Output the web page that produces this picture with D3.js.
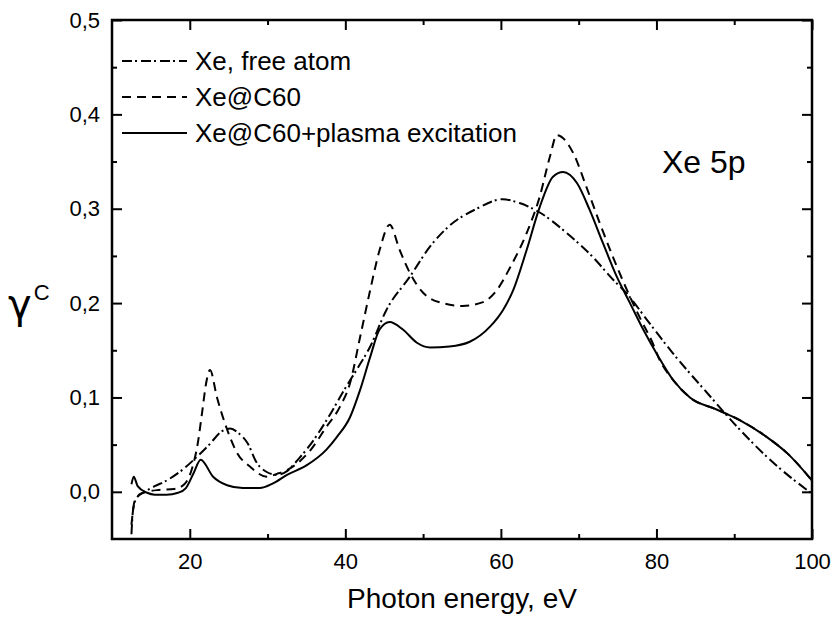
<!DOCTYPE html>
<html>
<head>
<meta charset="utf-8">
<script src="https://cdn.jsdelivr.net/npm/d3@7"></script>
<style>
  body { margin: 0; background: #fff; }
  text { font-family: "Liberation Sans", Arial, sans-serif; fill: #000; }
</style>
</head>
<body>
<div id="chart"></div>
<script>
// series data (photon energy in eV, gamma^C)
var freeAtomE = [12.5, 12.7, 13.2, 14.2, 15.5, 16.8, 19, 20.9, 22.5, 24.1, 25.2, 26.3, 27.4, 28.6, 29.9, 31.2, 32.5, 34, 35.5, 37.6, 40, 41.5, 43.2, 45.3, 48.3, 50.9, 53.4, 56.9, 60.2, 62.4, 65, 68.5, 71.8, 74.4, 76.2, 78.8, 82.1, 86.5, 90.7, 95, 100];
var freeAtomG = [-0.045, -0.02, -0.006, 0.0, 0.006, 0.011, 0.023, 0.037, 0.05, 0.064, 0.067, 0.062, 0.052, 0.031, 0.021, 0.018, 0.022, 0.035, 0.05, 0.076, 0.11, 0.13, 0.154, 0.193, 0.228, 0.26, 0.282, 0.3, 0.31, 0.306, 0.296, 0.274, 0.249, 0.225, 0.21, 0.182, 0.147, 0.105, 0.066, 0.031, -0.002];

var c60E = [12.5, 12.9, 13.5, 14.5, 16, 18, 19.3, 20.3, 21.0, 21.6, 22.1, 22.6, 23.5, 24.8, 26.1, 27.7, 29.9, 31.2, 32.5, 35.5, 37.5, 39.3, 40.6, 41.9, 43.2, 44.4, 45.7, 47, 48.3, 50, 52.5, 55.1, 57.7, 59.5, 61.2, 63.3, 65, 66.3, 67.2, 69.3, 71, 72.7, 74.4, 76.2, 77.9, 79.5, 80.4, 82.1, 84.3, 87.8, 90.7, 94.2, 96.8, 100];
var c60G = [-0.035, -0.01, -0.003, 0.0, 0.002, 0.003, 0.008, 0.025, 0.05, 0.085, 0.115, 0.129, 0.1, 0.066, 0.041, 0.027, 0.016, 0.019, 0.023, 0.044, 0.068, 0.09, 0.115, 0.164, 0.214, 0.256, 0.283, 0.256, 0.232, 0.211, 0.2, 0.197, 0.201, 0.214, 0.238, 0.274, 0.313, 0.355, 0.378, 0.359, 0.323, 0.285, 0.249, 0.214, 0.184, 0.158, 0.14, 0.119, 0.1, 0.087, 0.076, 0.058, 0.041, 0.012];

var plasmaE = [12.5, 12.8, 13.3, 14.5, 15.5, 17, 18.5, 19.5, 20.5, 21.4, 23, 24.8, 26.8, 29, 30.7, 32.5, 35, 37.6, 38.9, 40.6, 41.9, 43.2, 44.4, 45.7, 47.4, 49.2, 50.9, 53.4, 56, 58.6, 60.3, 61.6, 63.3, 65, 66.7, 68, 69.8, 71.4, 73.1, 74.9, 76.6, 78.3, 80.2, 82.1, 84.3, 87.8, 90.7, 94.2, 96.8, 100];
var plasmaG = [0.008, 0.016, 0.006, -0.001, -0.003, -0.003, -0.001, 0.004, 0.02, 0.034, 0.016, 0.007, 0.004, 0.004, 0.009, 0.018, 0.028, 0.045, 0.058, 0.079, 0.108, 0.143, 0.172, 0.18, 0.172, 0.158, 0.153, 0.154, 0.159, 0.175, 0.193, 0.214, 0.256, 0.302, 0.334, 0.339, 0.327, 0.299, 0.264, 0.228, 0.2, 0.172, 0.144, 0.119, 0.1, 0.087, 0.076, 0.058, 0.041, 0.012];

var seriesNames = ["Xe, free atom", "Xe@C60", "Xe@C60+plasma excitation"];
var seriesDash = ["10,3,2,4", "9,6", null];

var xMajorTicks = [20, 40, 60, 80, 100];
var xMinorTicks = [30, 50, 70, 90];
var yMajorTicks = [0.0, 0.1, 0.2, 0.3, 0.4, 0.5];
var yMinorTicks = [0.05, 0.15, 0.25, 0.35, 0.45];

var W = 833, H = 619;
var margin = {left: 112, right: 21, top: 20, bottom: 80};

var svg = d3.select("#chart").append("svg")
    .attr("width", W)
    .attr("height", H);

var x = d3.scaleLinear().domain([10, 100]).range([margin.left, W - margin.right]);
var y = d3.scaleLinear().domain([-0.05, 0.5]).range([H - margin.bottom, margin.top]);

var fmt = function (d) { return d3.format(".1f")(d).replace(".", ","); };

// axes, ticks point inward on every side
function tickAxis(axisFn, scale, ticks, len, transform, labels) {
    var a = axisFn(scale).tickValues(ticks).tickSizeInner(-len).tickSizeOuter(0);
    a.tickFormat(labels ? labels : "");
    var g = svg.append("g").attr("transform", transform).call(a);
    g.select(".domain").remove();
    g.selectAll(".tick line").attr("stroke", "#000").attr("stroke-width", 2);
    return g;
}

var bottomT = "translate(0," + (H - margin.bottom) + ")";
var topT = "translate(0," + margin.top + ")";
var leftT = "translate(" + margin.left + ",0)";
var rightT = "translate(" + (W - margin.right) + ",0)";

var gx = tickAxis(d3.axisBottom, x, xMajorTicks, 10, bottomT, d3.format("d"));
gx.selectAll("text").attr("font-size", 22).attr("y", 14);
tickAxis(d3.axisBottom, x, xMinorTicks, 5, bottomT);
tickAxis(d3.axisTop, x, xMajorTicks, 10, topT);
tickAxis(d3.axisTop, x, xMinorTicks, 5, topT);

var gy = tickAxis(d3.axisLeft, y, yMajorTicks, 10, leftT, fmt);
gy.selectAll("text").attr("font-size", 22).attr("x", -12);
tickAxis(d3.axisLeft, y, yMinorTicks, 5, leftT);
tickAxis(d3.axisRight, y, yMajorTicks, 10, rightT);
tickAxis(d3.axisRight, y, yMinorTicks, 5, rightT);

svg.selectAll(".tick text").attr("fill", "#000").style("font-family", '"Liberation Sans", Arial, sans-serif');

svg.append("rect")
    .attr("x", margin.left)
    .attr("y", margin.top)
    .attr("width", W - margin.left - margin.right)
    .attr("height", H - margin.top - margin.bottom)
    .attr("fill", "none")
    .attr("stroke", "#000")
    .attr("stroke-width", 2.5);

// curves
var line = d3.line()
    .x(function (d) { return x(d[0]); })
    .y(function (d) { return y(d[1]); })
    .curve(d3.curveMonotoneX);

var curves = [d3.zip(freeAtomE, freeAtomG), d3.zip(c60E, c60G), d3.zip(plasmaE, plasmaG)];

svg.append("defs").append("clipPath").attr("id", "clip")
    .append("rect")
    .attr("x", margin.left).attr("y", margin.top)
    .attr("width", W - margin.left - margin.right)
    .attr("height", H - margin.top - margin.bottom);

svg.append("g").attr("clip-path", "url(#clip)")
    .selectAll("path")
    .data(curves)
    .enter().append("path")
    .attr("d", line)
    .attr("fill", "none")
    .attr("stroke", "#000")
    .attr("stroke-width", 2)
    .attr("stroke-dasharray", function (d, i) { return seriesDash[i]; });

// legend
var legend = svg.append("g");
seriesNames.forEach(function (name, i) {
    var ly = 61 + i * 36;
    legend.append("line")
        .attr("x1", 122).attr("x2", 187)
        .attr("y1", ly).attr("y2", ly)
        .attr("stroke", "#000")
        .attr("stroke-width", 2)
        .attr("stroke-dasharray", seriesDash[i]);
    legend.append("text")
        .attr("x", 195).attr("y", ly)
        .attr("dy", "0.35em")
        .attr("font-size", 26)
        .text(name);
});

svg.append("text")
    .attr("x", 662).attr("y", 173)
    .attr("font-size", 32)
    .text("Xe 5p");

svg.append("text")
    .attr("x", x(55)).attr("y", 608)
    .attr("text-anchor", "middle")
    .attr("font-size", 28)
    .text("Photon energy, eV");

var yl = svg.append("text").attr("x", 8).attr("y", 318).attr("font-size", 40);
yl.append("tspan").style("font-family", '"DejaVu Sans", sans-serif').text("γ");
yl.append("tspan").attr("font-size", 22).attr("dy", -18).attr("dx", 2).text("C");
</script>
</body>
</html>
